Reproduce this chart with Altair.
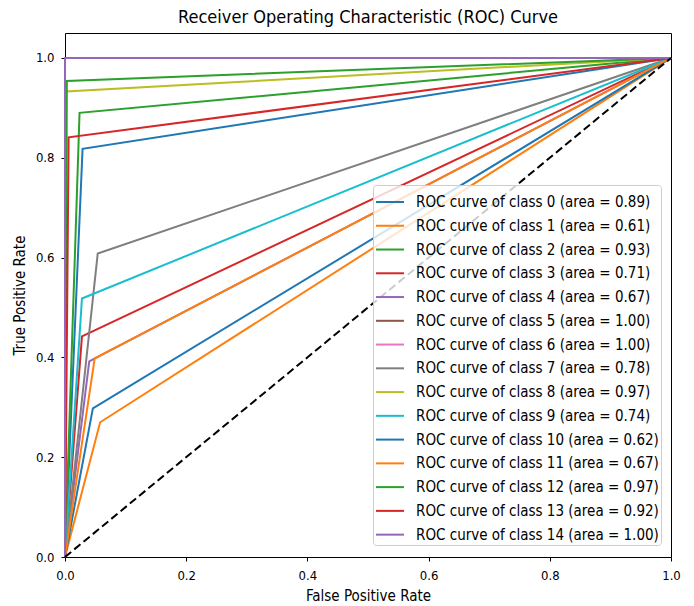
import altair as alt
import pandas as pd

# ---- data ----
classes = list(range(15))
knee_fpr = [0.029, 0.058, 0.024, 0.028, 0.040, 0.0, 0.0, 0.054, 0.002, 0.028, 0.046, 0.049, 0.003, 0.006, 0.0]
knee_tpr = [0.818, 0.270, 0.890, 0.442, 0.392, 1.0, 1.0, 0.608, 0.933, 0.518, 0.298, 0.398, 0.954, 0.841, 1.0]
auc_vals = [0.89, 0.61, 0.93, 0.71, 0.67, 1.00, 1.00, 0.78, 0.97, 0.74, 0.62, 0.67, 0.97, 0.92, 1.00]
colors = ["#1f77b4", "#ff7f0e", "#2ca02c", "#d62728", "#9467bd", "#8c564b", "#e377c2",
          "#7f7f7f", "#bcbd22", "#17becf", "#1f77b4", "#ff7f0e", "#2ca02c", "#d62728", "#9467bd"]
diag_x = [0.0, 1.0]
diag_y = [0.0, 1.0]
ticks = [0.0, 0.2, 0.4, 0.6, 0.8, 1.0]

labels = [f"ROC curve of class {c} (area = {a:.2f})" for c, a in zip(classes, auc_vals)]

rows = []
for c, lab, f, t in zip(classes, labels, knee_fpr, knee_tpr):
    for i, (x, y) in enumerate([(0.0, 0.0), (f, t), (1.0, 1.0)]):
        rows.append({"cls": c, "label": lab, "fpr": x, "tpr": y, "step": i})
df = pd.DataFrame(rows)
diag = pd.DataFrame({"fpr": diag_x, "tpr": diag_y})

FONT = "DejaVu Sans Condensed, DejaVu Sans"

xscale = alt.Scale(domain=[0, 1], nice=False, zero=False)
yscale = alt.Scale(domain=[0, 1.05], nice=False, zero=False)

xaxis = alt.Axis(values=ticks, format=".1f", title="False Positive Rate", grid=False, labelFlush=False)
yaxis = alt.Axis(values=ticks, format=".1f", title="True Positive Rate", grid=False, labelFlush=False)

lines = alt.Chart(df).mark_line(strokeWidth=2).encode(
    x=alt.X("fpr:Q", scale=xscale, axis=xaxis),
    y=alt.Y("tpr:Q", scale=yscale, axis=yaxis),
    color=alt.Color(
        "label:N",
        scale=alt.Scale(domain=labels, range=colors),
        legend=alt.Legend(
            title=None,
            orient="none",
            legendX=308,
            legendY=152,
            symbolType="stroke",
            symbolSize=784,
            symbolStrokeWidth=2,
            labelFont=FONT,
            labelFontSize=15,
            labelColor="black",
            labelLimit=400,
            labelOffset=11,
            padding=2,
            rowPadding=0.76,
            fillColor="rgba(255,255,255,0.8)",
            strokeColor="#cccccc",
            cornerRadius=3,
        ),
    ),
    order=alt.Order("step:Q"),
)

diagonal = alt.Chart(diag).mark_line(color="black", strokeWidth=2, strokeDash=[8, 4]).encode(
    x=alt.X("fpr:Q", scale=xscale),
    y=alt.Y("tpr:Q", scale=yscale),
)

chart = alt.layer(lines, diagonal).properties(
    width=606,
    height=524,
    title=alt.TitleParams(
        "Receiver Operating Characteristic (ROC) Curve",
        font=FONT, fontSize=18, fontWeight="normal", color="black", anchor="middle", offset=6,
    ),
    padding={"left": 57, "top": 25, "right": 15, "bottom": 48},
    autosize=alt.AutoSizeParams(type="none"),
).configure_view(
    stroke="black", strokeWidth=1
).configure_axis(
    domain=False,
    ticks=True,
    tickSize=4,
    tickColor="black",
    labelFont=FONT,
    labelFontSize=13,
    labelColor="black",
    titleFont=FONT,
    titleFontSize=15,
    titleFontWeight="normal",
    titleColor="black",
).configure_axisX(
    labelPadding=8, titlePadding=6
).configure_axisY(
    labelPadding=7, titlePadding=8
)

chart.save("out.html", embed_options={"renderer": "svg", "actions": False})
